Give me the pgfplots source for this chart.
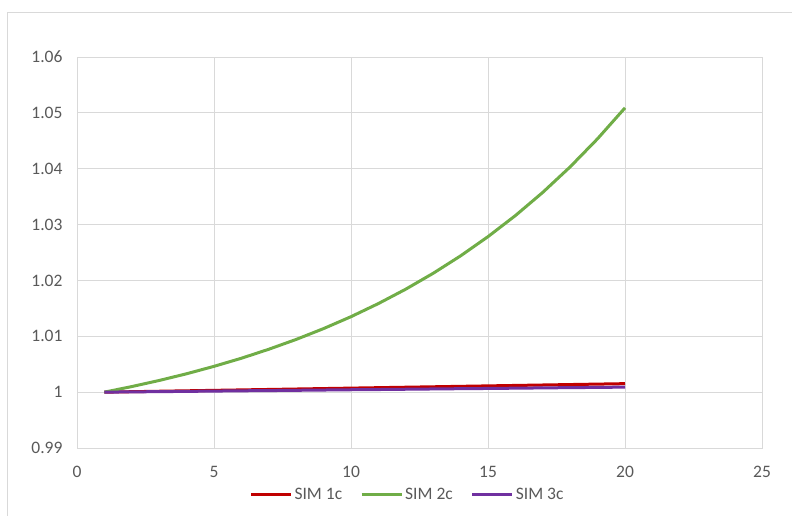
\documentclass[border=0pt]{standalone}
\usepackage{pgfplots}
\pgfplotsset{compat=1.18}
\usepackage{fontspec}
\setmainfont{Carlito}
\definecolor{gridc}{HTML}{D9D9D9}
\definecolor{txt}{HTML}{595959}
\definecolor{sred}{HTML}{C00000}
\definecolor{sgreen}{HTML}{70AD47}
\definecolor{spurple}{HTML}{7030A0}
\begin{document}
\begin{tikzpicture}[x=1pt,y=1pt]
\useasboundingbox (0,0) rectangle (792,-516);
\draw[gridc, line width=1.5pt] (7.5,-516) -- (7.5,-12.5) -- (792,-12.5);
\begin{axis}[
  at={(77pt,-448pt)}, anchor=south west,
  scale only axis, width=685pt, height=391pt,
  xmin=0, xmax=25, ymin=0.99, ymax=1.06,
  xtick={0,5,10,15,20,25},
  ytick={0.99,1,1.01,1.02,1.03,1.04,1.05,1.06},
  grid=major, major grid style={gridc, line width=1pt},
  axis line style={gridc, line width=1pt},
  tick style={draw=none},
  font=\fontsize{17.5}{20}\selectfont,
  tick label style={text=txt},
  /pgf/number format/assume math mode=true,
  yticklabel style={/pgf/number format/fixed, /pgf/number format/precision=2, xshift=-11pt},
  xticklabel style={yshift=-15pt},
  legend columns=3,
  legend style={at={(0.4825,-0.12)}, anchor=center, draw=none, fill=none,
    font=\fontsize{17.5}{20}\selectfont, text=txt,
    /tikz/every even column/.append style={column sep=16pt}},
  legend image code/.code={\draw[#1] (0pt,0pt) -- (40pt,0pt);},
]
\addplot[sred, line width=3pt] coordinates {
(1,1.00000) (2,1.00008) (3,1.00016) (4,1.00024) (5,1.00032) (6,1.00040)
(7,1.00048) (8,1.00056) (9,1.00064) (10,1.00072) (11,1.00080) (12,1.00088)
(13,1.00096) (14,1.00104) (15,1.00112) (16,1.00120) (17,1.00128) (18,1.00136)
(19,1.00144) (20,1.00152)};
\addlegendentry{SIM 1c}
\addplot[sgreen, line width=3pt] coordinates {
(1,1.00000) (2,1.00100) (3,1.00209) (4,1.00329) (5,1.00462) (6,1.00607)
(7,1.00768) (8,1.00944) (9,1.01138) (10,1.01351) (11,1.01586) (12,1.01844)
(13,1.02128) (14,1.02440) (15,1.02784) (16,1.03161) (17,1.03577) (18,1.04034)
(19,1.04537) (20,1.05090)};
\addlegendentry{SIM 2c}
\addplot[spurple, line width=3pt] coordinates {
(1,1.00000) (2,1.00005) (3,1.00009) (4,1.00014) (5,1.00019) (6,1.00024)
(7,1.00028) (8,1.00033) (9,1.00038) (10,1.00043) (11,1.00047) (12,1.00052)
(13,1.00057) (14,1.00062) (15,1.00066) (16,1.00071) (17,1.00076) (18,1.00081)
(19,1.00085) (20,1.00090)};
\addlegendentry{SIM 3c}
\end{axis}
\end{tikzpicture}
\end{document}
